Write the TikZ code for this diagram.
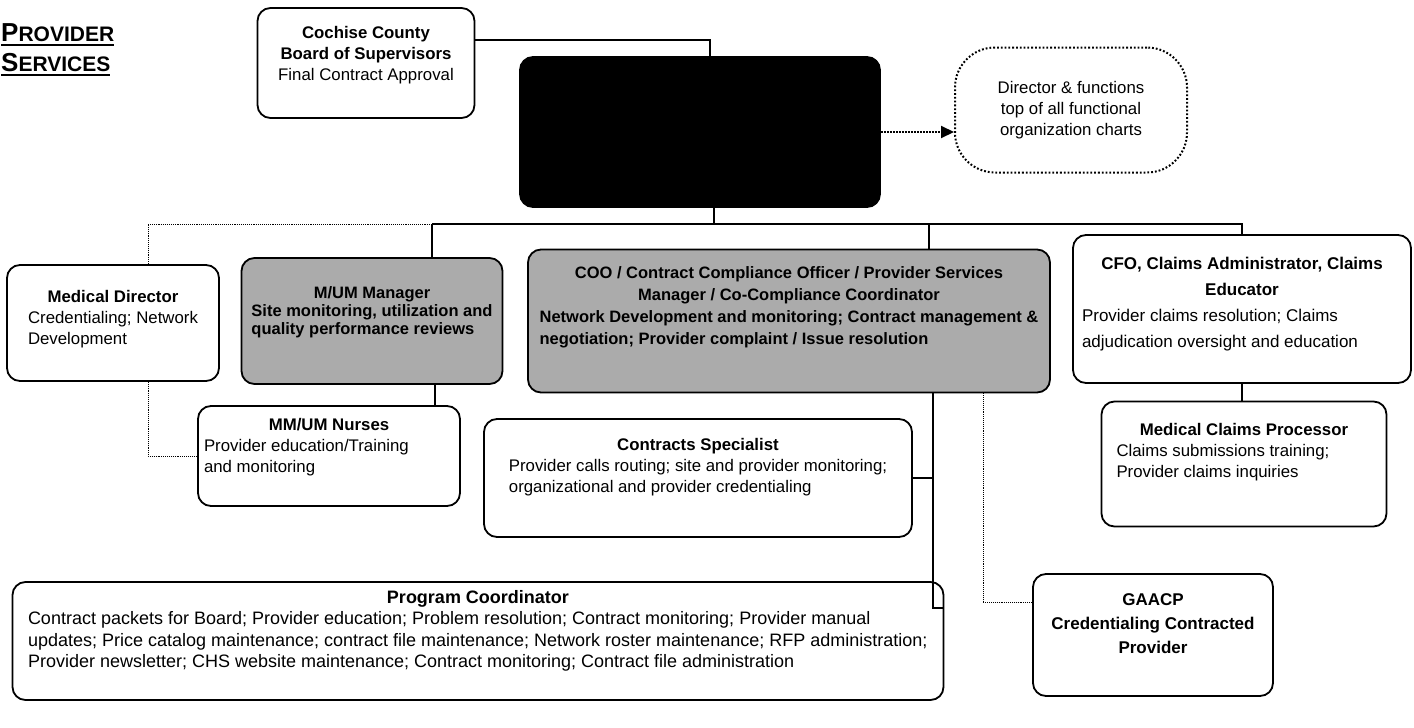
\documentclass[tikz,border=0pt]{standalone}
\usepackage{fontspec}
\setmainfont{Liberation Sans}
\usetikzlibrary{arrows.meta}
\newcommand\thickul[1]{\leavevmode\vtop{\hbox{#1}\kern2.5pt\hrule height 2pt}}
\tikzset{
  card/.style={draw, line width=1.8pt, rounded corners=13pt, fill=white, inner sep=0pt, font=\fontsize{16.8}{21}\selectfont},
  shaded/.style={card, fill=black!33},
  wire/.style={line width=1.5pt},
  faint/.style={densely dotted, line width=0.9pt},
}
\begin{document}
\begin{tikzpicture}[x=1pt, y=-1pt]
    \useasboundingbox (0,0) rectangle (1414,728);

    % heading
    \node[anchor=north west, align=left, inner sep=0pt, font=\bfseries\fontsize{26}{30}\selectfont] (title) at (1,23)
        {\thickul{P{\fontsize{21}{21}\selectfont ROVIDER}}\\\thickul{S{\fontsize{21}{21}\selectfont ERVICES}}};

    % top level
    \node[card, minimum width=217pt, minimum height=110pt] (board) at (366,63) {
        \begin{tabular}{@{}c@{}}
            \textbf{Cochise County}\\
            \textbf{Board of Supervisors}\\
            Final Contract Approval\\[16pt]
        \end{tabular}
    };
    \node[card, fill=black, minimum width=360pt, minimum height=150pt] (dir) at (700,132) {};
    \node[card, dotted, line width=2pt, rounded corners=40pt, minimum width=232pt, minimum height=125pt] (note) at (1071,110) {
        \begin{tabular}{@{}c@{}}
            Director \& functions\\
            top of all functional\\
            organization charts
        \end{tabular}
    };

    % second row
    \node[card, minimum width=212pt, minimum height=116pt] (meddir) at (113,323) {
        \begin{tabular}{@{}l@{}}
            \multicolumn{1}{@{}c@{}}{\textbf{Medical Director}}\\
            Credentialing; Network\\
            Development\\[8pt]
        \end{tabular}
    };
    \node[shaded, minimum width=261pt, minimum height=126pt, font=\bfseries\fontsize{16.5}{18}\selectfont] (mum) at (372,321) {
        \begin{tabular}{@{}l@{}}
            \multicolumn{1}{@{}c@{}}{M/UM Manager}\\
            Site monitoring, utilization and\\
            quality performance reviews\\[16pt]
        \end{tabular}
    };
    \node[shaded, minimum width=522pt, minimum height=143pt, font=\bfseries\fontsize{16.5}{22}\selectfont] (coo) at (789,321) {
        \begin{tabular}{@{}l@{}}
            \multicolumn{1}{@{}c@{}}{COO / Contract Compliance Officer / Provider Services}\\
            \multicolumn{1}{@{}c@{}}{Manager / Co-Compliance Coordinator}\\
            Network Development and monitoring; Contract management \&\\
            negotiation; Provider complaint / Issue resolution\\[28pt]
        \end{tabular}
    };
    \node[card, minimum width=338pt, minimum height=148pt, font=\fontsize{17}{26}\selectfont] (cfo) at (1242,309) {
        \begin{tabular}{@{}p{320pt}@{}}
            \multicolumn{1}{@{}c@{}}{\textbf{CFO, Claims Administrator, Claims}}\\
            \multicolumn{1}{@{}c@{}}{\textbf{Educator}}\\
            Provider claims resolution; Claims\\
            adjudication oversight and education\\[12pt]
        \end{tabular}
    };

    % third row
    \node[card, minimum width=262pt, minimum height=100pt] (nurses) at (329,456) {
        \begin{tabular}{@{}p{250pt}@{}}
            \multicolumn{1}{@{}c@{}}{\textbf{MM/UM Nurses}}\\
            Provider education/Training\\
            and monitoring\\[18pt]
        \end{tabular}
    };
    \node[card, minimum width=428pt, minimum height=118pt] (spec) at (698,478) {
        \begin{tabular}{@{}l@{}}
            \multicolumn{1}{@{}c@{}}{\textbf{Contracts Specialist}}\\
            Provider calls routing; site and provider monitoring;\\
            organizational and provider credentialing\\[22pt]
        \end{tabular}
    };
    \node[card, minimum width=285pt, minimum height=125pt] (mcp) at (1244,464) {
        \begin{tabular}{@{}p{255pt}@{}}
            \multicolumn{1}{@{}c@{}}{\textbf{Medical Claims Processor}}\\
            Claims submissions training;\\
            Provider claims inquiries\\[24pt]
        \end{tabular}
    };

    % bottom row
    \node[card, minimum width=931pt, minimum height=118pt, font=\fontsize{18}{21.5}\selectfont] (prog) at (478,641) {
        \begin{tabular}{@{}p{900pt}@{}}
            \multicolumn{1}{@{}c@{}}{\textbf{Program Coordinator}}\\
            Contract packets for Board; Provider education; Problem resolution; Contract monitoring; Provider manual\\
            updates; Price catalog maintenance; contract file maintenance; Network roster maintenance; RFP administration;\\
            Provider newsletter; CHS website maintenance; Contract monitoring; Contract file administration\\[20pt]
        \end{tabular}
    };
    \node[card, minimum width=240pt, minimum height=122pt, font=\bfseries\fontsize{17}{24}\selectfont] (gaacp) at (1153,635) {
        \begin{tabular}{@{}c@{}}
            GAACP\\
            Credentialing Contracted\\
            Provider\\[20pt]
        \end{tabular}
    };

    % connectors
    \coordinate (busL) at (432,224);
    \coordinate (busR) at (cfo.north |- busL);
    \coordinate (drop) at ([xshift=144pt]coo.south);
    \draw[wire] ([yshift=23pt]board.east) -| ([xshift=10pt]dir.north);
    \draw[faint, line width=2pt, -{Triangle[length=13pt, width=12pt]}] (dir.east) -- (dir.east -| note.west);
    \draw[wire] ([xshift=14pt]dir.south) -- ([xshift=14pt]dir.south |- busL);
    \draw[wire] (busL) -- (busR) -- (cfo.north);
    \draw[wire] (busL) -- (busL |- mum.north);
    \draw[wire] ([xshift=140pt]coo.north |- busL) -- ([xshift=140pt]coo.north);
    \draw[faint] (busL) -| ([xshift=35pt]meddir.north);
    \draw[faint] ([xshift=35pt]meddir.south) |- (nurses.west);
    \draw[wire] ([xshift=63pt]mum.south) -- ([xshift=63pt]mum.south |- nurses.north);
    \draw[wire] (cfo.south) -- (cfo.south |- mcp.north);
    \draw[wire] (drop) |- ([yshift=33pt]prog.east);
    \draw[wire] (spec.east) -- (spec.east -| drop);
    \draw[faint] ([xshift=194pt]coo.south) |- ([yshift=33pt]gaacp.west);
\end{tikzpicture}
\end{document}
